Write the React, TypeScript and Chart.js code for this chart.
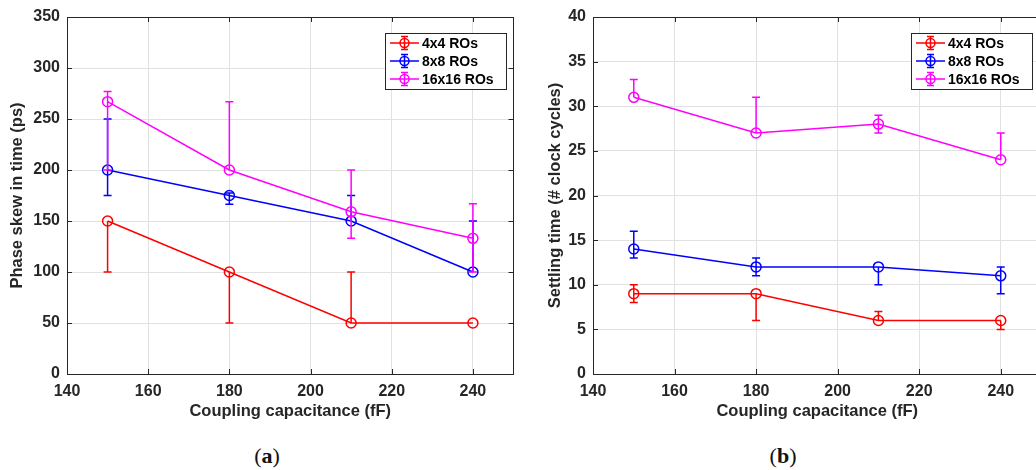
import React, { useEffect, useRef } from 'react';
import { Chart, registerables } from 'chart.js';

Chart.register(...registerables);

// ---------- data ----------
const capacitance = [150, 180, 210, 240];
const seriesLabels = ['4x4 ROs', '8x8 ROs', '16x16 ROs'];
const xTicks = [140, 160, 180, 200, 220, 240];
const xAxisMin = 140;
const xAxisMax = 250;

// (a) phase skew (ps)
const skew4 = [150, 100, 50, 50];
const skew4Lo = [100, 50, 50, 50];
const skew4Hi = [150, 100, 100, 50];
const skew8 = [200, 175, 150, 100];
const skew8Lo = [175, 166.5, 150, 100];
const skew8Hi = [250, 177.5, 175, 150];
const skew16 = [267, 200, 159, 133];
const skew16Lo = [200, 200, 133, 100];
const skew16Hi = [277, 267, 200, 167];

// (b) settling time (# clock cycles)
const settle4 = [9, 9, 6, 6];
const settle4Lo = [8, 6, 6, 5];
const settle4Hi = [10, 9, 7, 6];
const settle8 = [14, 12, 12, 11];
const settle8Lo = [13, 11, 10, 9];
const settle8Hi = [16, 13, 12, 12];
const settle16 = [31, 27, 28, 24];
const settle16Lo = [31, 27, 27, 24];
const settle16Hi = [33, 31, 29, 27];

// ---------- styles ----------
const FONT = '"Liberation Sans", Arial, Helvetica, sans-serif';
const AXIS = '#262626';
const GRID = '#e1e1e1';
const COLORS = ['#ff0000', '#0000ff', '#ff00ff'];

const errorBarPlugin = {
  id: 'errorBars',
  afterDatasetDraw(chart: any, args: any) {
    const ds = chart.data.datasets[args.index];
    if (!ds.errLo) return;
    const { ctx } = chart;
    const xs = chart.scales.x;
    const ys = chart.scales.y;
    const cw = 4;
    ctx.save();
    ctx.strokeStyle = ds.borderColor;
    ctx.lineWidth = 1.5;
    ds.data.forEach((p: any, i: number) => {
      const lo = ds.errLo[i];
      const hi = ds.errHi[i];
      if (lo === p.y && hi === p.y) return;
      const px = xs.getPixelForValue(p.x);
      const pl = ys.getPixelForValue(lo);
      const ph = ys.getPixelForValue(hi);
      ctx.beginPath();
      ctx.moveTo(px, pl);
      ctx.lineTo(px, ph);
      if (lo < p.y) {
        ctx.moveTo(px - cw, pl);
        ctx.lineTo(px + cw, pl);
      }
      if (hi > p.y) {
        ctx.moveTo(px - cw, ph);
        ctx.lineTo(px + cw, ph);
      }
      ctx.stroke();
    });
    ctx.restore();
  },
};

const framePlugin = {
  id: 'frameLegend',
  afterDatasetsDraw(chart: any) {
    const { ctx, chartArea: a, scales } = chart;
    const tl = 5;
    ctx.save();
    ctx.strokeStyle = AXIS;
    ctx.lineWidth = 1;
    ctx.beginPath();
    scales.y.ticks.forEach((t: any) => {
      const y = Math.round(scales.y.getPixelForValue(t.value)) + 0.5;
      ctx.moveTo(a.left, y);
      ctx.lineTo(a.left + tl, y);
      ctx.moveTo(a.right, y);
      ctx.lineTo(a.right - tl, y);
    });
    scales.x.ticks.forEach((t: any) => {
      const x = Math.round(scales.x.getPixelForValue(t.value)) + 0.5;
      ctx.moveTo(x, a.bottom);
      ctx.lineTo(x, a.bottom - tl);
      ctx.moveTo(x, a.top);
      ctx.lineTo(x, a.top + tl);
    });
    ctx.stroke();
    ctx.strokeRect(Math.round(a.left) + 0.5, Math.round(a.top) + 0.5, Math.round(a.right - a.left) - 1, Math.round(a.bottom - a.top));
    ctx.restore();
  },
  afterDraw(chart: any) {
    const { ctx, chartArea: a } = chart;
    const x0 = Math.round(a.left) + 318;
    const y0 = Math.round(a.top) + 16;
    const w = 121;
    const h = 56;
    ctx.save();
    ctx.fillStyle = '#ffffff';
    ctx.fillRect(x0, y0, w, h);
    ctx.strokeStyle = AXIS;
    ctx.lineWidth = 1;
    ctx.strokeRect(x0 + 0.5, y0 + 0.5, w, h);
    chart.data.datasets.forEach((ds: any, i: number) => {
      const cy = y0 + 10 + i * 18;
      const cx = x0 + 19.5;
      ctx.strokeStyle = ds.borderColor;
      ctx.lineWidth = 1.5;
      ctx.beginPath();
      ctx.moveTo(x0 + 5, cy);
      ctx.lineTo(x0 + 34, cy);
      ctx.moveTo(cx, cy - 6.5);
      ctx.lineTo(cx, cy + 6.5);
      ctx.moveTo(cx - 3.5, cy - 6.5);
      ctx.lineTo(cx + 3.5, cy - 6.5);
      ctx.moveTo(cx - 3.5, cy + 6.5);
      ctx.lineTo(cx + 3.5, cy + 6.5);
      ctx.stroke();
      ctx.beginPath();
      ctx.arc(cx, cy, 4.5, 0, Math.PI * 2);
      ctx.stroke();
      ctx.fillStyle = '#000000';
      ctx.font = `bold 14px ${FONT}`;
      ctx.textBaseline = 'middle';
      ctx.textAlign = 'left';
      ctx.fillText(ds.label, x0 + 37, cy + 1);
    });
    ctx.restore();
  },
};

type Series = { label: string; values: number[]; lo: number[]; hi: number[] };

function Panel(props: {
  left: number;
  width: number;
  yAxisWidth: number;
  yTitle: string;
  yTitlePad: number;
  yMax: number;
  yStep: number;
  series: Series[];
}) {
  const ref = useRef<HTMLCanvasElement>(null);
  useEffect(() => {
    const canvas = ref.current!;
    const tickFont = { family: FONT, size: 16, weight: 'bold' as const };
    const titleFont = { family: FONT, size: 16.5, weight: 'bold' as const };
    const chart = new Chart(canvas, {
      type: 'line',
      data: {
        datasets: props.series.map((s, i) => ({
          label: s.label,
          data: capacitance.map((x, j) => ({ x, y: s.values[j] })),
          errLo: s.lo,
          errHi: s.hi,
          borderColor: COLORS[i],
          backgroundColor: 'rgba(0,0,0,0)',
          borderWidth: 1.5,
          pointRadius: 5,
          pointHoverRadius: 5,
          pointBorderWidth: 1.5,
          pointBackgroundColor: 'rgba(0,0,0,0)',
          pointBorderColor: COLORS[i],
          tension: 0,
          order: 2 - i,
        })) as any,
      },
      options: {
        responsive: false,
        animation: false,
        devicePixelRatio: 1,
        events: [],
        layout: { padding: { left: 0, right: 1, top: 17, bottom: 0 } },
        plugins: { legend: { display: false }, tooltip: { enabled: false } },
        scales: {
          x: {
            type: 'linear',
            min: xAxisMin,
            max: xAxisMax,
            afterBuildTicks: (s: any) => {
              s.ticks = xTicks.map((v) => ({ value: v }));
            },
            afterFit: (s: any) => {
              s.height = 56;
            },
            ticks: { padding: 8, color: AXIS, font: tickFont, maxRotation: 0, autoSkip: false },
            grid: { color: GRID, drawTicks: false },
            border: { display: false },
            title: {
              display: true,
              text: 'Coupling capacitance (fF)',
              color: AXIS,
              font: titleFont,
              padding: { top: 0, bottom: 9 },
            },
          },
          y: {
            type: 'linear',
            min: 0,
            max: props.yMax,
            afterFit: (s: any) => {
              s.width = props.yAxisWidth;
            },
            ticks: { stepSize: props.yStep, padding: 7, color: AXIS, font: tickFont },
            grid: { color: GRID, drawTicks: false },
            border: { display: false },
            title: {
              display: true,
              text: props.yTitle,
              color: AXIS,
              font: titleFont,
              padding: { top: props.yTitlePad, bottom: 0 },
            },
          },
        },
      } as any,
      plugins: [errorBarPlugin, framePlugin],
    });
    return () => chart.destroy();
  }, []);
  return (
    <canvas
      ref={ref}
      width={props.width}
      height={430}
      style={{ position: 'absolute', left: props.left, top: 0, width: props.width, height: 430, display: 'block' }}
    />
  );
}

const captionStyle: React.CSSProperties = {
  position: 'absolute',
  top: 443,
  transform: 'translateX(-50%)',
  fontFamily: '"Liberation Serif", "DejaVu Serif", serif',
  fontSize: 22,
  color: '#111',
  lineHeight: '26px',
  whiteSpace: 'nowrap',
};

export default function App() {
  const skewSeries: Series[] = [
    { label: seriesLabels[0], values: skew4, lo: skew4Lo, hi: skew4Hi },
    { label: seriesLabels[1], values: skew8, lo: skew8Lo, hi: skew8Hi },
    { label: seriesLabels[2], values: skew16, lo: skew16Lo, hi: skew16Hi },
  ];
  const settleSeries: Series[] = [
    { label: seriesLabels[0], values: settle4, lo: settle4Lo, hi: settle4Hi },
    { label: seriesLabels[1], values: settle8, lo: settle8Lo, hi: settle8Hi },
    { label: seriesLabels[2], values: settle16, lo: settle16Lo, hi: settle16Hi },
  ];
  return (
    <div
      style={{
        position: 'absolute',
        left: 0,
        top: 0,
        width: 1036,
        height: 470,
        overflow: 'hidden',
        background: '#ffffff',
      }}
    >
      <Panel
        left={0}
        width={520}
        yAxisWidth={67}
        yTitle="Phase skew in time (ps)"
        yTitlePad={8}
        yMax={350}
        yStep={50}
        series={skewSeries}
      />
      <Panel
        left={520}
        width={528}
        yAxisWidth={73}
        yTitle="Settling time (# clock cycles)"
        yTitlePad={26}
        yMax={40}
        yStep={5}
        series={settleSeries}
      />
      <div style={{ ...captionStyle, left: 267 }}>
        (<b>a</b>)
      </div>
      <div style={{ ...captionStyle, left: 783 }}>
        (<b>b</b>)
      </div>
    </div>
  );
}
